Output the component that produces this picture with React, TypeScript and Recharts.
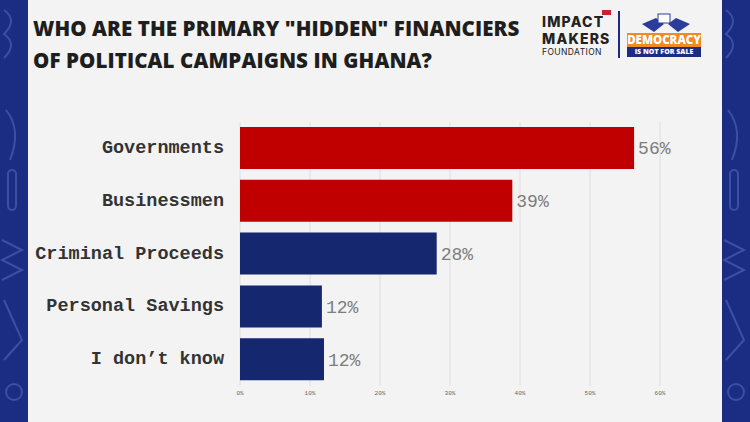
import React from 'react';
import { BarChart, Bar, XAxis, YAxis, CartesianGrid, LabelList, Cell } from 'recharts';

const categories = ['Governments', 'Businessmen', 'Criminal Proceeds', 'Personal Savings', 'I don\u2019t know'];
const shares = [56.3, 38.9, 28.1, 11.7, 12.0];
const barColors = ['#c00000', '#c00000', '#14276f', '#14276f', '#14276f'];
const xTicks = [0, 10, 20, 30, 40, 50, 60];

const data = categories.map((name, i) => ({ name, value: shares[i] }));

const BLUE = '#1b2d83';
const mono = '"Liberation Mono", "DejaVu Sans Mono", monospace';

const Strip = ({ left }: { left: number }) => (
  <svg style={{ position: 'absolute', left, top: 0 }} width={28} height={422}>
    <rect width={28} height={422} fill={BLUE} />
    <g fill="none" stroke="#3b4fa3" strokeWidth={2}>
      <path d="M4 10 q14 10 0 24 q14 10 0 24" />
      <path d="M6 110 q16 20 4 50" />
      <rect x={8} y={170} width={8} height={40} rx={4} />
      <path d="M2 240 l20 10 l-20 10 l20 10 l-20 10" />
      <path d="M4 300 l18 40 l-18 20" />
      <circle cx={14} cy={392} r={8} />
    </g>
  </svg>
);

const logoLine = (text: string, top: number, size: number, weight: number, spacing: number) => (
  <div
    style={{
      position: 'absolute',
      left: 542,
      top,
      fontFamily: 'Inter, "Open Sans", sans-serif',
      fontWeight: weight,
      fontSize: size,
      lineHeight: 1.2,
      letterSpacing: spacing,
      color: '#222',
      whiteSpace: 'nowrap',
    }}
  >
    {text}
  </div>
);

export default function App() {
  return (
    <div style={{ position: 'absolute', left: 0, top: 0, width: 750, height: 422, background: '#f3f3f3', overflow: 'hidden' }}>
      <Strip left={0} />
      <div style={{ position: 'absolute', left: 722, top: 0 }}>
        <Strip left={0} />
      </div>

      <div
        style={{
          position: 'absolute',
          left: 33,
          top: 12,
          fontFamily: '"Open Sans", Inter, sans-serif',
          fontWeight: 800,
          fontSize: 20.5,
          lineHeight: '32px',
          color: '#1e1e1e',
          letterSpacing: 0.1,
        }}
      >
        WHO ARE THE PRIMARY "HIDDEN" FINANCIERS
        <br />
        OF POLITICAL CAMPAIGNS IN GHANA?
      </div>

      {/* logos */}
      {logoLine('IMPACT', 14, 14, 800, 1.2)}
      {logoLine('MAKERS', 31, 14, 800, 1.2)}
      {logoLine('FOUNDATION', 47, 8.5, 400, 0.4)}
      <div style={{ position: 'absolute', left: 602, top: 10, width: 9, height: 5, background: '#c0282d' }} />
      <div style={{ position: 'absolute', left: 618, top: 11, width: 2, height: 47, background: '#1b2d83' }} />
      <svg style={{ position: 'absolute', left: 640, top: 12 }} width={52} height={20}>
        <path d="M2 12 l14 -6 l8 6 l-10 8 z" fill="#2b3c9a" />
        <path d="M50 12 l-14 -6 l-8 6 l10 8 z" fill="#2b3c9a" />
        <rect x={18} y={2} width={12} height={9} fill="#fff" stroke="#2b3c9a" />
      </svg>
      <div
        style={{
          position: 'absolute',
          left: 627,
          top: 33,
          width: 74,
          height: 14,
          background: '#f08a24',
          color: '#fff',
          fontFamily: '"Open Sans", sans-serif',
          fontWeight: 800,
          fontSize: 11.5,
          lineHeight: '14px',
          textAlign: 'center',
        }}
      >
        DEMOCRACY
      </div>
      <div
        style={{
          position: 'absolute',
          left: 627,
          top: 47,
          width: 74,
          height: 10,
          background: '#1b2d83',
          color: '#fff',
          fontFamily: '"Open Sans", sans-serif',
          fontWeight: 800,
          fontSize: 7,
          lineHeight: '10px',
          textAlign: 'center',
        }}
      >
        IS NOT FOR SALE
      </div>

      <div style={{ position: 'absolute', left: 0, top: 0 }}>
        <BarChart
          width={750}
          height={422}
          data={data}
          layout="vertical"
          margin={{ top: 122, right: 90, left: 0, bottom: 16 }}
          barSize={42}
        >
          <CartesianGrid horizontal={false} stroke="#dedede" />
          <XAxis
            type="number"
            domain={[0, 60]}
            ticks={xTicks}
            tickFormatter={(v) => `${v}%`}
            axisLine={false}
            tickLine={false}
            tickSize={0}
            tickMargin={5}
            height={20}
            tick={{ fontSize: 6, fill: '#666', fontFamily: mono }}
          />
          <YAxis
            type="category"
            dataKey="name"
            width={240}
            axisLine={false}
            tickLine={false}
            tickSize={0}
            tickMargin={16}
            tick={{ fontSize: 18.5, fill: '#333', fontFamily: mono, fontWeight: 700, dy: -2 }}
          />
          <Bar dataKey="value" isAnimationActive={false}>
            {data.map((d, i) => (
              <Cell key={d.name} fill={barColors[i]} />
            ))}
            <LabelList
              dataKey="value"
              position="right"
              offset={4}
              formatter={(v: any) => `${Math.round(Number(v))}%`}
              style={{ fontSize: 18, fill: '#7d7d7d', fontFamily: mono }}
            />
          </Bar>
        </BarChart>
      </div>
    </div>
  );
}
